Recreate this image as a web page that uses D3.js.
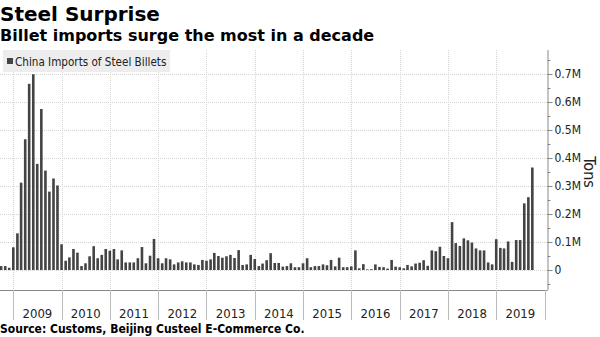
<!DOCTYPE html>
<html>
<head>
<meta charset="utf-8">
<script src="https://cdn.jsdelivr.net/npm/d3@7"></script>
<style>
  body { margin: 0; background: #fff; }
  svg { display: block; font-family: "DejaVu Sans Condensed", "DejaVu Sans", sans-serif; }
</style>
</head>
<body>
<svg id="chart"></svg>
<script>
const width = 600;
const height = 337;

// monthly billet imports, million tons, Sep 2008 .. Sep 2019
const firstMonth = [2008, 8];
const imports = [
  0.014, 0.014, 0.008, 0.081, 0.131, 0.312, 0.467, 0.665, 0.699, 0.379,
  0.575, 0.355, 0.280, 0.327, 0.302, 0.092, 0.033, 0.045, 0.075, 0.062,
  0.014, 0.024, 0.049, 0.085, 0.042, 0.054, 0.075, 0.069, 0.075, 0.038,
  0.070, 0.027, 0.027, 0.027, 0.042, 0.082, 0.024, 0.051, 0.111, 0.042,
  0.024, 0.042, 0.038, 0.020, 0.027, 0.031, 0.027, 0.027, 0.020, 0.018,
  0.036, 0.033, 0.038, 0.061, 0.050, 0.044, 0.049, 0.054, 0.043, 0.071,
  0.018, 0.020, 0.054, 0.039, 0.014, 0.023, 0.035, 0.060, 0.025, 0.025,
  0.012, 0.014, 0.024, 0.010, 0.010, 0.024, 0.042, 0.010, 0.014, 0.014,
  0.020, 0.017, 0.036, 0.013, 0.044, 0.010, 0.010, 0.013, 0.070,
  0.006, 0.021, 0.002, 0.003, 0.020, 0.011, 0.010, 0.005, 0.036, 0.012, 0.010,
  0.006, 0.018, 0.013, 0.023, 0.026, 0.035, 0.015, 0.070, 0.067, 0.083,
  0.050, 0.042, 0.171, 0.096, 0.086, 0.113, 0.106, 0.098, 0.077, 0.070,
  0.070, 0.027, 0.020, 0.110, 0.079, 0.077, 0.102, 0.029, 0.107, 0.107,
  0.238, 0.260, 0.366
];
const years = d3.range(2009, 2020);
const yTicks = [0, 0.1, 0.2, 0.3, 0.4, 0.5, 0.6, 0.7];
const yMinorTicks = [-0.05, 0.05, 0.15, 0.25, 0.35, 0.45, 0.55, 0.65, 0.75];

const plot = {left: 0, right: 547.5, top: 50, bottom: 290};

// each bar sits on the last day of its month
const data = imports.map((v, i) => ({
  date: new Date(Date.UTC(firstMonth[0], firstMonth[1] + i + 1, 1)),
  value: v
}));

const x = d3.scaleUtc()
  .domain([new Date(Date.UTC(2009, 0, 1)), new Date(Date.UTC(2020, 0, 1))])
  .range([13.3, 544.5]);
const y = d3.scaleLinear([0, 0.7], [270, 74]);
const yearStart = yr => x(new Date(Date.UTC(yr, 0, 1)));

const svg = d3.select('#chart')
  .attr('width', width)
  .attr('height', height)
  .attr('viewBox', [0, 0, width, height]);

svg.append('text')
  .attr('x', 0).attr('y', 21)
  .attr('font-family', '"DejaVu Sans", sans-serif')
  .attr('font-size', '20px')
  .attr('font-weight', 'bold')
  .attr('fill', '#000')
  .text('Steel Surprise');

svg.append('text')
  .attr('x', 0).attr('y', 41)
  .attr('font-family', '"DejaVu Sans", sans-serif')
  .attr('font-size', '16px')
  .attr('font-weight', 'bold')
  .attr('fill', '#000')
  .text('Billet imports surge the most in a decade');

// grid
const grid = svg.append('g')
  .attr('stroke', '#d4d4d4')
  .attr('stroke-dasharray', '1,1');

grid.selectAll('line.h')
  .data(yTicks)
  .join('line')
    .attr('class', 'h')
    .attr('x1', plot.left).attr('x2', plot.right)
    .attr('y1', d => Math.round(y(d)) + 0.5)
    .attr('y2', d => Math.round(y(d)) + 0.5);

grid.selectAll('line.v')
  .data(years)
  .join('line')
    .attr('class', 'v')
    .attr('x1', d => Math.round(yearStart(d)) + 0.5)
    .attr('x2', d => Math.round(yearStart(d)) + 0.5)
    .attr('y1', plot.top).attr('y2', plot.bottom);

// legend
const legend = svg.append('g').attr('transform', 'translate(3,50)');
legend.append('rect')
  .attr('width', 167).attr('height', 22)
  .attr('fill', '#ededed');
legend.append('rect')
  .attr('x', 4).attr('y', 8)
  .attr('width', 6).attr('height', 6)
  .attr('fill', '#444');
legend.append('text')
  .attr('x', 12).attr('y', 15.5)
  .attr('font-size', '11.6px')
  .attr('fill', '#222')
  .text('China Imports of Steel Billets');

// bars
svg.append('defs').append('clipPath').attr('id', 'clip')
  .append('rect')
    .attr('x', plot.left).attr('y', plot.top)
    .attr('width', plot.right - plot.left)
    .attr('height', plot.bottom - plot.top);

const barWidth = 2.6;
svg.append('g')
  .attr('clip-path', 'url(#clip)')
  .attr('fill', '#444')
  .selectAll('rect')
  .data(data)
  .join('rect')
    .attr('x', d => x(d.date) - barWidth / 2)
    .attr('y', d => y(d.value))
    .attr('width', barWidth)
    .attr('height', d => y(0) - y(d.value));

// x axis: year separators with labels centred in each year
const xAxis = svg.append('g');
xAxis.append('line')
  .attr('x1', plot.left).attr('x2', plot.right)
  .attr('y1', plot.bottom + 0.5).attr('y2', plot.bottom + 0.5)
  .attr('stroke', '#888');
xAxis.selectAll('line.sep')
  .data(years.concat([2020]))
  .join('line')
    .attr('class', 'sep')
    .attr('x1', d => Math.round(yearStart(d)) + 0.5)
    .attr('x2', d => Math.round(yearStart(d)) + 0.5)
    .attr('y1', plot.bottom).attr('y2', 320)
    .attr('stroke', '#bbb');
xAxis.selectAll('text')
  .data(years)
  .join('text')
    .attr('x', d => (yearStart(d) + yearStart(d + 1)) / 2)
    .attr('y', 318)
    .attr('text-anchor', 'middle')
    .attr('font-size', '13px')
    .attr('fill', '#222')
    .text(d => d);

// y axis on the right
const yAxis = svg.append('g');
yAxis.append('line')
  .attr('x1', plot.right + 0.5).attr('x2', plot.right + 0.5)
  .attr('y1', plot.top).attr('y2', plot.bottom)
  .attr('stroke', '#888');
yAxis.selectAll('line.major')
  .data(yTicks)
  .join('line')
    .attr('class', 'major')
    .attr('x1', plot.right).attr('x2', plot.right + 5)
    .attr('y1', d => Math.round(y(d)) + 0.5)
    .attr('y2', d => Math.round(y(d)) + 0.5)
    .attr('stroke', '#888');
yAxis.selectAll('line.minor')
  .data(yMinorTicks)
  .join('line')
    .attr('class', 'minor')
    .attr('x1', plot.right).attr('x2', plot.right + 3)
    .attr('y1', d => Math.round(y(d)) + 0.5)
    .attr('y2', d => Math.round(y(d)) + 0.5)
    .attr('stroke', '#888');
yAxis.selectAll('text')
  .data(yTicks)
  .join('text')
    .attr('x', plot.right + 7)
    .attr('y', d => y(d))
    .attr('dy', '0.35em')
    .attr('font-size', '12px')
    .attr('fill', '#222')
    .text(d => d === 0 ? '0' : d3.format('.1f')(d) + 'M');

svg.append('text')
  .attr('transform', `translate(584,${y(0.35)}) rotate(90)`)
  .attr('text-anchor', 'middle')
  .attr('font-size', '16px')
  .attr('fill', '#222')
  .text('Tons');

svg.append('text')
  .attr('x', 0).attr('y', 333)
  .attr('font-size', '12px')
  .attr('font-weight', 'bold')
  .attr('fill', '#000')
  .text('Source: Customs, Beijing Custeel E-Commerce Co.');
</script>
</body>
</html>
